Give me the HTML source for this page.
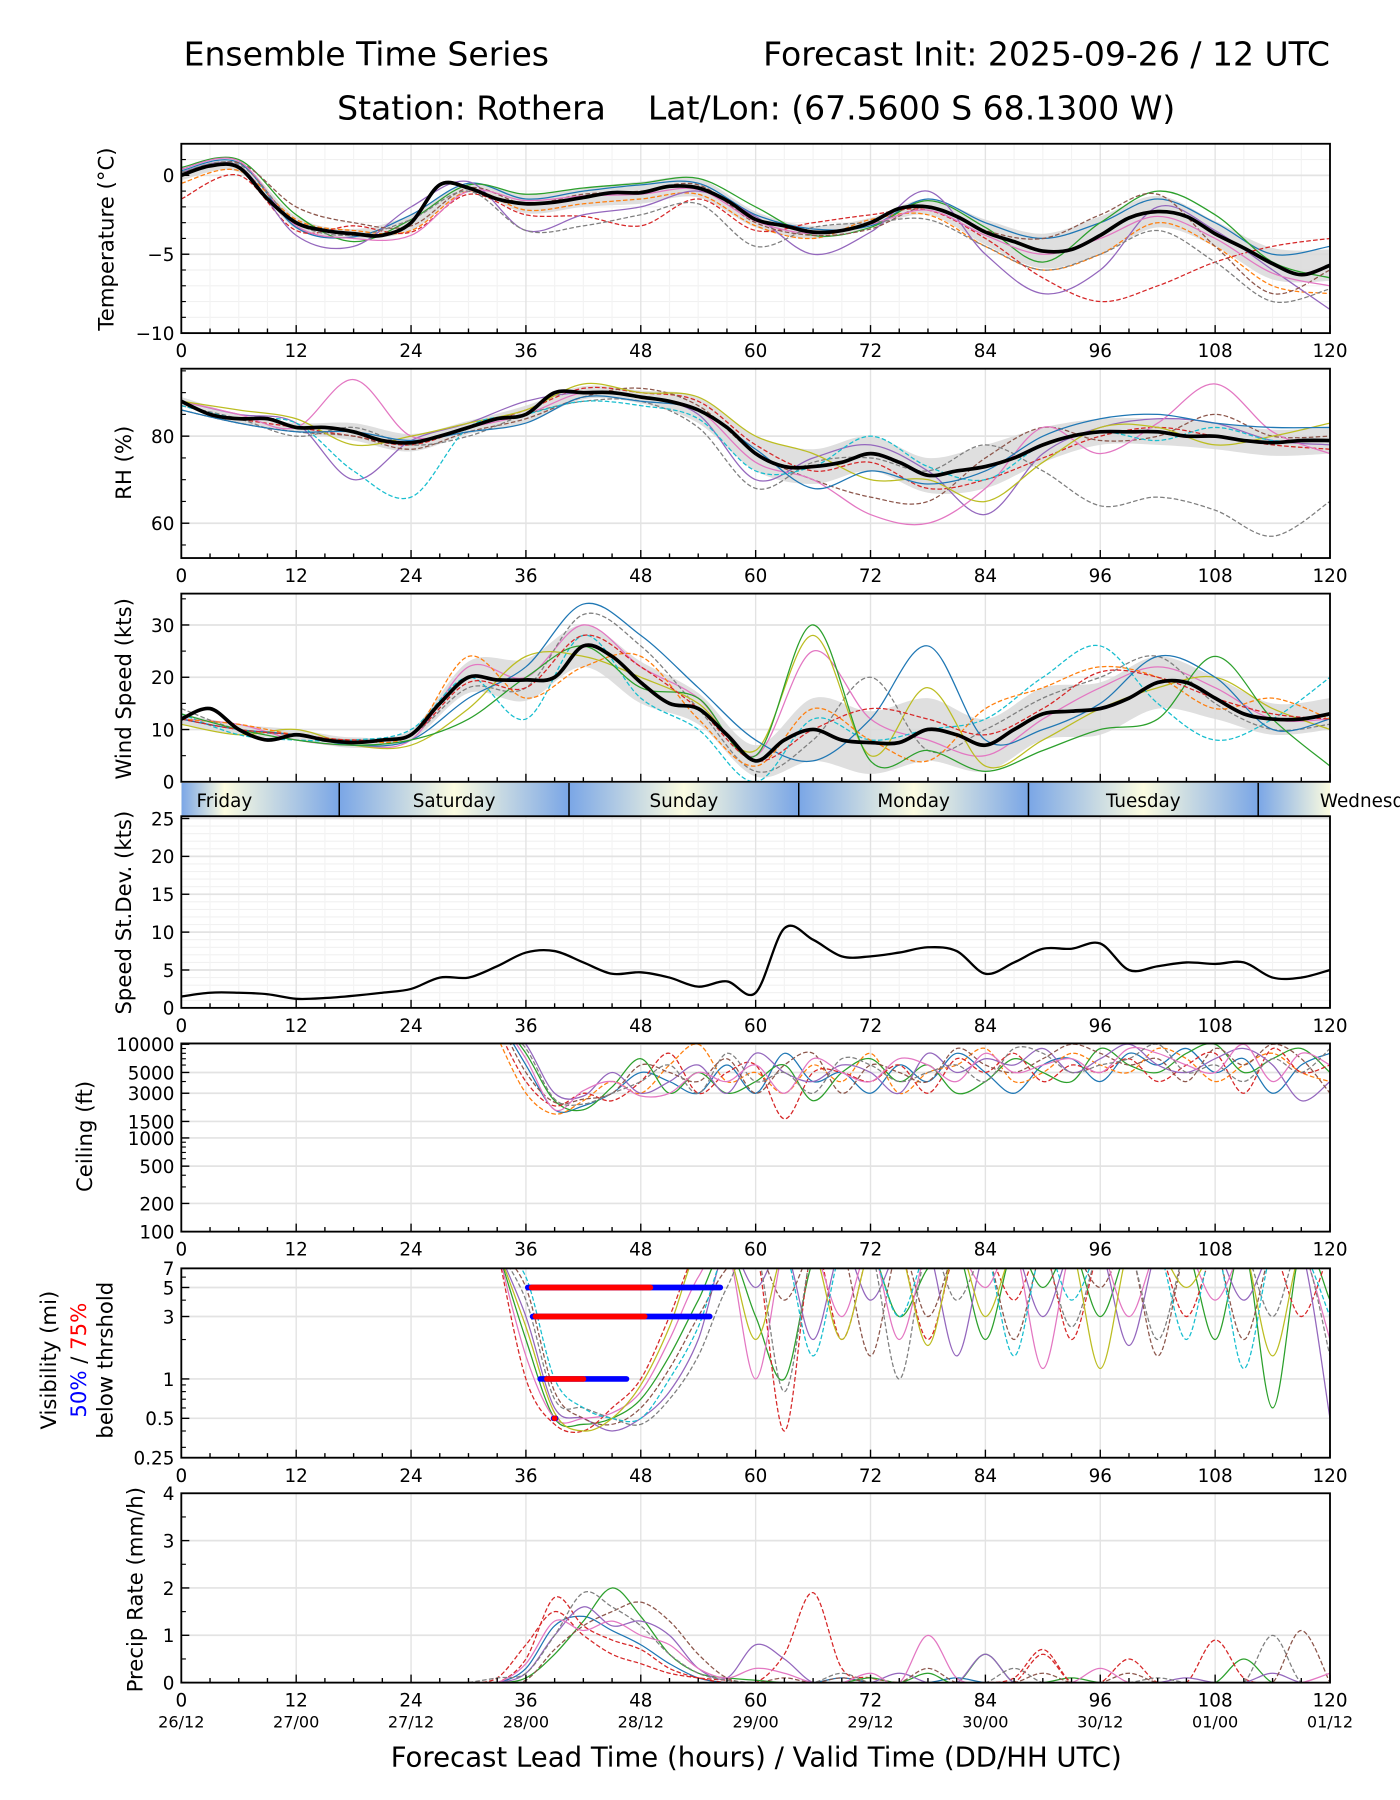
<!DOCTYPE html>
<html><head><meta charset="utf-8"><style>
html,body{margin:0;padding:0;background:#fff;}
svg{display:block;font-family:"DejaVu Sans","Liberation Sans",sans-serif;}
</style></head><body>
<svg id="fig" xmlns="http://www.w3.org/2000/svg" width="1400" height="1800" viewBox="0 0 1220 1568">
<rect x="0" y="0" width="1220" height="1568" fill="#fff"/>
<text x="160" y="57" font-size="28.8">Ensemble Time Series</text>
<text x="1159" y="57" font-size="28.8" text-anchor="end">Forecast Init: 2025-09-26 / 12 UTC</text>
<text x="659" y="104" font-size="28.8" text-anchor="middle" style="white-space:pre" xml:space="preserve">Station: Rothera    Lat/Lon: (67.5600 S 68.1300 W)</text>
<text x="659" y="1539" font-size="24" text-anchor="middle">Forecast Lead Time (hours) / Valid Time (DD/HH UTC)</text>
</svg>
<script>
// ---------- DATA ----------
const hours3 = [0,3,6,9,12,15,18,21,24,27,30,33,36,39,42,45,48,51,54,57,60,63,66,69,72,75,78,81,84,87,90,93,96,99,102,105,108,111,114,117,120];
const hours6 = [0,6,12,18,24,30,36,42,48,54,60,66,72,78,84,90,96,102,108,114,120];
const hoursLate = [33,36,39,42,45,48,51,54,57,60,63,66,69,72,75,78,81,84,87,90,93,96,99,102,105,108,111,114,117,120];
const hoursPrecip = [30,33,36,39,42,45,48,51,54,57,60,63,66,69,72,75,78,81,84,87,90,93,96,99,102,105,108,111,114,117,120];

const tempMean = [0,0.6,0.5,-1.5,-3.0,-3.5,-3.7,-3.8,-3.0,-0.6,-0.8,-1.5,-1.8,-1.7,-1.4,-1.1,-1.1,-0.7,-0.8,-1.6,-2.8,-3.2,-3.6,-3.5,-3.0,-2.1,-2.0,-2.6,-3.6,-4.2,-4.8,-4.7,-3.8,-2.7,-2.3,-2.6,-3.7,-4.6,-5.6,-6.3,-5.7];
const tempSpread = [0.3,0.3,0.4,0.3,0.5,0.3,0.6,0.6,0.7,0.6,0.5,0.4,0.3,0.5,0.8,1.1,1.2,1.0,0.8,1.0,1.0];
const tempM1 = [0.3,0.8,-3.3,-3.9,-2.5,-0.5,-1.5,-1.0,-0.6,-0.5,-2.5,-3.4,-3.2,-1.5,-3.0,-4.0,-3.0,-1.5,-3.0,-5.0,-4.5];
const tempM2 = [-0.5,0.3,-2.8,-3.5,-3.5,-1.0,-2.2,-1.8,-1.5,-1.2,-3.2,-4.0,-2.8,-2.5,-4.5,-6.0,-5.0,-3.0,-4.5,-7.0,-7.5];
const tempM3 = [0.5,1.0,-2.5,-4.2,-2.8,-0.6,-1.2,-0.8,-0.5,-0.2,-2.0,-3.8,-3.3,-1.6,-3.3,-5.5,-3.0,-1.0,-2.5,-5.5,-6.5];
const tempM4 = [-1.5,0.0,-3.5,-3.2,-3.6,-1.2,-2.5,-2.6,-3.2,-1.5,-3.5,-3.0,-2.5,-2.2,-4.0,-6.5,-8.0,-7.0,-5.5,-4.5,-4.0];
const tempM5 = [0.2,0.6,-3.8,-4.5,-2.0,-0.4,-3.5,-2.5,-2.0,-1.0,-2.6,-5.0,-3.6,-1.0,-5.0,-7.5,-6.0,-2.0,-3.5,-6.0,-8.5];
const tempM6 = [0.0,0.8,-2.0,-3.0,-3.2,-0.8,-1.8,-1.2,-1.0,-0.6,-3.0,-3.8,-3.4,-2.0,-3.5,-4.0,-2.5,-1.2,-4.5,-7.5,-6.0];
const tempM7 = [0.4,0.9,-3.2,-4.0,-3.8,-1.0,-1.6,-1.3,-1.2,-0.9,-2.9,-3.7,-3.1,-2.2,-3.8,-5.0,-4.0,-2.6,-4.0,-6.2,-7.0];
const tempM8 = [0.2,0.7,-3.0,-3.8,-2.8,-1.0,-3.5,-3.2,-2.5,-1.8,-4.5,-3.3,-3.0,-2.8,-4.5,-6.0,-5.0,-3.5,-5.5,-8.0,-7.2];

const rhMean = [88,85,84,84,82,82,81,79,78.5,80,82,84,85,90,90,90,89,88,86,82,76,73,73,74,76,74,71,72,73,75,78,80,81,81,81,80,80,79,78.5,79,79];
const rhSpread = [1,1,1,2,2,1.5,2,1.5,1.5,3,4,4,4,4,5,4,3,3,3,3,3];
const rhM1 = [87,84,82,80,78,82,86,91,90,88,78,72,74,68,70,75,80,82,80,78,77];
const rhM2 = [88,85,83,70,79,83,88,90,89,85,70,75,78,72,62,76,82,84,83,79,78];
const rhM3 = [86,83,81,80,77,81,84,89,91,87,76,70,66,65,75,82,79,80,85,80,80];
const rhM4 = [88,85,82,93,80,82,85,90,89,86,74,70,62,60,68,82,76,83,92,81,76];
const rhM5 = [87,84,80,82,78,80,85,88,88,82,68,74,75,72,78,72,64,66,63,57,65];
const rhM6 = [88,86,84,78,80,83,86,92,90,89,80,76,70,70,65,74,82,82,78,80,83];
const rhM7 = [87,84,83,72,66,82,85,88,87,84,72,73,80,73,70,78,81,79,82,79,79];
const rhM8 = [86,83,81,81,79,81,83,89,88,86,77,68,72,69,72,80,84,85,83,82,82];

const windMean = [12,14,10,8,9,8,7.5,8,9,15,20,19.5,19.5,20,26,24,19,15,14,9,4,8,10,8,7.5,7.5,10,9,7,10,13,13.5,14,16,19,19,16,13,12,12,13];
const windSpread = [1,1,1,1,1,3,4,4,4,3,3,6,6,6,5,5,5,5,4,3,3];
const windM1 = [12,11,8,7,8,22,20,30,22,16,5,25,12,8,5,12,18,22,18,12,12];
const windM2 = [14,10,9,8,9,18,18,32,26,14,2,8,20,6,10,16,20,24,15,10,11];
const windM3 = [11,9,10,7,7,14,24,24,20,15,6,28,5,18,3,8,14,18,20,14,10];
const windM4 = [13,9,8,8,10,20,12,28,16,10,0,12,8,10,12,20,26,15,8,12,20];
const windM5 = [12,10,9,7,8,16,22,34,28,18,8,4,12,26,8,10,15,24,20,10,12];
const windM6 = [12,11,9,8,9,24,16,22,24,12,3,14,8,4,14,18,22,20,14,16,12];
const windM7 = [13,10,8,7,8,12,20,26,18,16,5,30,4,6,2,6,10,12,24,12,3];
const windM8 = [12,10,9,8,9,19,18,28,22,14,4,10,14,12,9,14,21,20,16,13,12];

const sdValues = [1.5,2,2,1.8,1.2,1.3,1.6,2,2.5,4,4,5.5,7.3,7.5,6,4.5,4.7,4,2.8,3.5,2,10.5,9,6.8,6.8,7.3,8,7.5,4.5,6,7.8,7.8,8.5,5,5.5,6,5.8,6,4,4,5];

const ceilM1 = [20,6,2,2.2,3,5,4,3,6,3,8,4,5,3,6,4,8,5,3,6,7,4,8,6,9,5,7,3,6,8];
const ceilM2 = [12,3,1.8,2.5,4,3,6,10,4,5,3,6,4,8,3,5,6,9,4,5,8,6,5,9,7,4,6,8,5,4];
const ceilM3 = [20,8,2.5,2,3.5,7,3,5,3,4,6,2.5,5,7,4,6,3,4,7,5,4,9,6,5,8,10,5,7,9,5];
const ceilM4 = [15,4,2.2,3,2.5,4,8,3,5,6,1.6,5,5,4,6,3,7,5,8,4,6,5,7,4,6,8,3,9,5,6];
const ceilM5 = [20,10,3,2.8,5,3,4,6,3,8,5,4,6,5,3,8,5,7,6,9,5,7,10,6,5,7,9,6,2.5,4];
const ceilM6 = [20,5,2.4,2.6,3,6,5,4,7,3,6,8,3,6,5,4,9,6,5,7,10,8,6,7,4,9,6,10,7,3];
const ceilM7 = [20,7,2,3.2,4,2.8,3,5,4,6,3,7,5,4,7,6,4,8,5,6,7,5,9,8,6,5,10,4,8,6];
const ceilM8 = [18,9,2.6,2.3,3,4,6,3,8,4,5,3,7,6,4,5,6,4,9,8,5,6,7,10,5,6,4,7,5,9];

const visM1 = [10,2,0.5,0.45,0.5,0.7,1.5,4,10,3,1,8,10,10,3,7,10,2,10,5,10,3,10,8,10,2,10,0.6,10,4];
const visM2 = [10,1,0.45,0.4,0.6,1,3,10,10,10,0.4,10,2,10,10,2,10,10,4,10,2,10,10,10,3,10,10,10,3,10];
const visM3 = [10,3,0.6,0.5,0.4,0.5,0.8,2,10,5,10,2,10,4,10,10,1.5,10,10,3,10,10,1.8,10,10,10,4,10,10,0.5];
const visM4 = [10,5,0.8,0.5,0.45,0.6,1.2,3,7,10,4,10,10,1.5,10,3,10,10,2,10,10,5,10,1.5,10,10,2,10,10,10];
const visM5 = [10,1.5,0.5,0.5,0.55,0.8,2,6,10,1,10,10,3,10,2,10,10,5,10,1.2,10,10,3,10,10,4,10,10,10,2];
const visM6 = [10,4,0.7,0.6,0.5,0.45,0.7,1.5,5,10,0.8,10,10,10,1,10,4,10,10,10,2.5,10,10,2,10,10,10,3,10,1.5];
const visM7 = [10,2.5,0.55,0.4,0.5,0.9,2.5,10,10,2,10,10,2,10,10,1.8,10,3,10,10,10,1.2,10,10,5,10,10,1.5,10,10];
const visM8 = [10,6,1,0.6,0.5,0.5,1,2.5,10,10,10,1.5,10,10,3,10,10,10,1.5,10,4,10,10,10,2,10,1.2,10,10,3];
const visThresholds = [5,3,1,0.5];
const vis50Start = [36.2,36.7,37.5,38.9];
const vis50End = [56.3,55.2,46.5,39.1];
const vis75Start = [36.6,37.0,38.2,39.0];
const vis75End = [49.0,48.4,42.0,39.0];

const prM1 = [0,0,0.3,1.2,1.4,1.1,0.8,0.4,0.1,0,0,0,0,0.1,0,0,0,0.1,0,0,0,0,0,0,0,0,0,0,0,0,0];
const prM2 = [0,0.1,0.8,1.5,1.0,0.6,0.4,0.2,0.1,0.05,0,0.6,1.9,0.3,0.1,0,0,0,0,0.1,0.7,0,0,0.5,0,0,0,0,0,0,0];
const prM3 = [0,0,0.1,0.6,1.3,2.0,1.4,0.6,0.2,0.1,0.05,0,0,0,0.1,0,0.2,0,0.6,0,0,0.1,0,0,0,0,0,0.5,0,0,0];
const prM4 = [0,0,0.5,1.8,1.2,0.9,0.7,0.3,0.1,0,0,0,0,0,0,0,0,0,0,0,0.6,0,0,0,0,0,0.9,0.1,0,0,0];
const prM5 = [0,0,0.2,1.0,1.6,1.2,1.3,1.0,0.3,0.1,0.8,0.5,0,0,0,0.2,0,0,0.6,0,0,0,0,0,0,0.1,0,0,0.2,0,0];
const prM6 = [0,0,0.05,0.7,1.2,1.5,1.7,1.3,0.6,0.1,0,0.1,0,0.1,0,0,0.3,0,0,0,0.2,0,0,0.2,0,0,0,0,0,1.1,0];
const prM7 = [0,0,0.4,1.3,1.1,1.3,1.0,0.8,0.3,0.1,0.3,0.2,0,0,0.2,0,1.0,0.1,0,0,0,0,0.3,0,0,0,0,0,0,0,0.2];
const prM8 = [0,0.1,0.2,1.0,1.9,1.6,1.2,0.6,0.2,0.05,0,0,0,0.2,0,0,0,0,0,0.3,0,0,0,0,0.1,0,0,0,1.0,0,0];

const xTicks = [0,12,24,36,48,60,72,84,96,108,120];
const dateLabels = ["26/12","27/00","27/12","28/00","28/12","29/00","29/12","30/00","30/12","01/00","01/12"];
const dayNames = ["Friday","Saturday","Sunday","Monday","Tuesday","Wednesday"];

// ---------- RENDER ----------
const NS = "http://www.w3.org/2000/svg";
const svg = document.getElementById("fig");
const COLORS = ["#1f77b4","#ff7f0e","#2ca02c","#d62728","#9467bd","#8c564b","#e377c2","#7f7f7f","#bcbd22","#17becf"];
const X0 = 158, X1 = 1159;
const TICK_FS = 16;
function xs(h){ return X0 + h*(X1-X0)/120; }
function mk(tag, attrs, parent){
  const e = document.createElementNS(NS, tag);
  for (const k in attrs) e.setAttribute(k, attrs[k]);
  (parent||svg).appendChild(e);
  return e;
}
function smoothPath(pts){
  if (!pts.length) return "";
  let d = "M" + pts[0][0].toFixed(1) + "," + pts[0][1].toFixed(1);
  for (let i=0;i<pts.length-1;i++){
    const p0 = pts[Math.max(0,i-1)], p1 = pts[i], p2 = pts[i+1], p3 = pts[Math.min(pts.length-1,i+2)];
    const c1x = p1[0]+(p2[0]-p0[0])/6, c1y = p1[1]+(p2[1]-p0[1])/6;
    const c2x = p2[0]-(p3[0]-p1[0])/6, c2y = p2[1]-(p3[1]-p1[1])/6;
    d += " C"+c1x.toFixed(1)+","+c1y.toFixed(1)+" "+c2x.toFixed(1)+","+c2y.toFixed(1)+" "+p2[0].toFixed(1)+","+p2[1].toFixed(1);
  }
  return d;
}
function makePanel(name, top, bottom, ymin, ymax, log){
  const p = {name, top, bottom, ymin, ymax, log};
  p.y = function(v){
    if (log){ const a=Math.log10(ymin), b=Math.log10(ymax); return bottom - (Math.log10(Math.max(v,1e-3))-a)/(b-a)*(bottom-top); }
    return bottom - (v-ymin)/(ymax-ymin)*(bottom-top);
  };
  const defs = mk("defs", {});
  const cp = mk("clipPath", {id:"clip-"+name}, defs);
  mk("rect", {x:X0, y:top, width:X1-X0, height:bottom-top}, cp);
  p.g = mk("g", {"clip-path":"url(#clip-"+name+")"});
  
  
  return p;
}
function grid(p, yMajors, yMinors, minorGrid){
  const g = mk("g", {});
  
  
  if (minorGrid){
    yMinors.forEach(v=>{ mk("line",{x1:X0,x2:X1,y1:p.y(v),y2:p.y(v),stroke:"#f1f1f1","stroke-width":1},g); });
    for (let h=3;h<120;h+=3){ if (h%12) mk("line",{x1:xs(h),x2:xs(h),y1:p.top,y2:p.bottom,stroke:"#f3f3f3","stroke-width":1},g); }
  }
  xTicks.forEach(h=>{ mk("line",{x1:xs(h),x2:xs(h),y1:p.top,y2:p.bottom,stroke:"#e3e3e3","stroke-width":1.2},g); });
  yMajors.forEach(v=>{ mk("line",{x1:X0,x2:X1,y1:p.y(v),y2:p.y(v),stroke:"#e3e3e3","stroke-width":1.5},g); });
}
function frame(p, yMajors, yLabels, yMinors, showX){
  const g = mk("g", {});
  
  
  mk("rect",{x:X0,y:p.top,width:X1-X0,height:p.bottom-p.top,fill:"none",stroke:"#000","stroke-width":1.6},g);
  for (let h=0;h<=120;h+=3){
    const len = (h%12===0)?7:4;
    mk("line",{x1:xs(h),x2:xs(h),y1:p.bottom,y2:p.bottom-len,stroke:"#000","stroke-width":1.2},g);
  }
  yMajors.forEach((v,i)=>{
    mk("line",{x1:X0,x2:X0+7,y1:p.y(v),y2:p.y(v),stroke:"#000","stroke-width":1.2},g);
    const t = mk("text",{x:X0-6,y:p.y(v)+6,"font-size":TICK_FS,"text-anchor":"end"},g);
    t.textContent = yLabels[i];
    
    
  });
  yMinors.forEach(v=>{ mk("line",{x1:X0,x2:X0+4,y1:p.y(v),y2:p.y(v),stroke:"#000","stroke-width":1},g); });
  if (showX){
    xTicks.forEach(h=>{
      const t = mk("text",{x:xs(h),y:p.bottom+21,"font-size":TICK_FS,"text-anchor":"middle"},g);
      t.textContent = String(h);
      
      
    });
  }
}
function yTitle(text, x, y, name, size){
  const t = mk("text",{x:x,y:y,"font-size":size||18.5,"text-anchor":"middle",transform:"rotate(-90 "+x+" "+y+")"});
  t.textContent = text;
  
  
  return t;
}
function memberLine(p, hrs, vals, idx, name, width){
  const pts = hrs.map((h,i)=>[xs(h), p.y(vals[i])]);
  const path = mk("path",{d:smoothPath(pts),fill:"none",stroke:COLORS[idx%10],"stroke-width":width||1.1,"stroke-dasharray":(idx%2)?"4,2":"none"},p.g);
  
  
}
function band(p, meanArr, spread){
  const m6 = hours6.map(h=>meanArr[hours3.indexOf(h)]);
  const up = hours6.map((h,i)=>[xs(h), p.y(m6[i]+spread[i])]);
  const lo = hours6.map((h,i)=>[xs(h), p.y(m6[i]-spread[i])]).reverse();
  const d = smoothPath(up) + " L" + lo[0][0]+","+lo[0][1] + smoothPath(lo).replace(/^M[^C]*/,"") + " Z";
  const path = mk("path",{d:d,fill:"#d9d9d9","fill-opacity":0.85,stroke:"none"},p.g);
  
  
}
function meanLine(p, vals, w){
  const pts = hours3.map((h,i)=>[xs(h), p.y(vals[i])]);
  const path = mk("path",{d:smoothPath(pts),fill:"none",stroke:"#000","stroke-width":w||3.2},p.g);
  
  
}

// Temperature
const pT = makePanel("temperature",125,290,-10,2,false);
(function(){
  const g0 = pT.g; pT.g.remove();
  grid(pT,[0,-5,-10],[1,-1,-2,-3,-4,-6,-7,-8,-9],true);
  svg.appendChild(g0);
  band(pT,tempMean,tempSpread);
  [tempM1,tempM2,tempM3,tempM4,tempM5,tempM6,tempM7,tempM8].forEach((a,i)=>memberLine(pT,hours6,a,i,"temperature-member-"+(i+1)));
  meanLine(pT,tempMean);
  frame(pT,[0,-5,-10],["0","\u22125","\u221210"],[1,-1,-2,-3,-4,-6,-7,-8,-9],true);
  yTitle("Temperature (\u00b0C)",99,208,"temperature-y-axis-title");
})();

// RH
const pR = makePanel("rh",321,486,52,95.5,false);
(function(){
  const g0 = pR.g; pR.g.remove();
  grid(pR,[60,80],[55,65,70,75,85,90,95],false);
  svg.appendChild(g0);
  band(pR,rhMean,rhSpread);
  [rhM1,rhM2,rhM3,rhM4,rhM5,rhM6,rhM7,rhM8].forEach((a,i)=>memberLine(pR,hours6,a,(i+3),"rh-member-"+(i+1)));
  meanLine(pR,rhMean);
  frame(pR,[60,80],["60","80"],[55,65,70,75,85,90,95],true);
  yTitle("RH (%)",114,403,"rh-y-axis-title");
})();

// Wind
const pW = makePanel("wind",517,681,0,36,false);
(function(){
  const g0 = pW.g; pW.g.remove();
  grid(pW,[0,10,20,30],[5,15,25,35],false);
  svg.appendChild(g0);
  band(pW,windMean,windSpread);
  [windM1,windM2,windM3,windM4,windM5,windM6,windM7,windM8].forEach((a,i)=>memberLine(pW,hours6,a,(i+6),"wind-member-"+(i+1)));
  meanLine(pW,windMean);
  frame(pW,[0,10,20,30],["0","10","20","30"],[5,15,25,35],false);
  yTitle("Wind Speed (kts)",114,600,"wind-y-axis-title");
})();

// Day bar
(function(){
  const defs = mk("defs",{});
  const lg = mk("linearGradient",{id:"daygrad",x1:X0,x2:X1,y1:0,y2:0,gradientUnits:"userSpaceOnUse"},defs);
  for (let h=-19.5; h<=140; h+=12){
    const isNoon = Math.round((h-4.5)/12)%2===0;
    const off = (xs(h)-X0)/(X1-X0);
    if (off<-0.3||off>1.3) continue;
    mk("stop",{offset:off,"stop-color":isNoon?"#fcfce0":"#7aa6e6"},lg);
  }
  const r = mk("rect",{x:X0,y:682,width:X1-X0,height:29,fill:"url(#daygrad)"});
  
  
  for (let k=0;k<5;k++){
    const h = 16.5+24*k;
    const l = mk("line",{x1:xs(h),x2:xs(h),y1:682,y2:711,stroke:"#000","stroke-width":1.3});
    
    
  }
  dayNames.forEach((n,k)=>{
    const t = mk("text",{x:xs(4.5+24*k),y:703,"font-size":16,"text-anchor":"middle"});
    t.textContent = n;
    
    
  });
})();

// StDev
const pS = makePanel("stdev",711,878,0,25.3,false);
(function(){
  const g0 = pS.g; pS.g.remove();
  grid(pS,[0,5,10,15,20,25],[1,2,3,4,6,7,8,9,11,12,13,14,16,17,18,19,21,22,23,24],true);
  svg.appendChild(g0);
  meanLine(pS,sdValues,2);
  
  frame(pS,[0,5,10,15,20,25],["0","5","10","15","20","25"],[],true);
  yTitle("Speed St.Dev. (kts)",114,795,"stdev-y-axis-title");
})();

// Ceiling
const pC = makePanel("ceiling",909,1073,100,10200,true);
(function(){
  const maj=[100,200,500,1000,1500,3000,5000,10000];
  const g0 = pC.g; pC.g.remove();
  grid(pC,maj,[],false);
  svg.appendChild(g0);
  [ceilM1,ceilM2,ceilM3,ceilM4,ceilM5,ceilM6,ceilM7,ceilM8].forEach((a,i)=>memberLine(pC,hoursLate,a.map(v=>v*1000),i,"ceiling-member-"+(i+1)));
  frame(pC,maj,maj.map(String),[300,400,600,700,800,900,2000,4000,6000,7000,8000,9000],true);
  yTitle("Ceiling (ft)",80,990,"ceiling-y-axis-title");
})();

// Visibility
const pV = makePanel("visibility",1105,1270,0.25,7,true);
(function(){
  const maj=[0.25,0.5,1,3,5,7];
  const g0 = pV.g; pV.g.remove();
  grid(pV,maj,[],false);
  svg.appendChild(g0);
  [visM1,visM2,visM3,visM4,visM5,visM6,visM7,visM8].forEach((a,i)=>memberLine(pV,hoursLate,a,(i+2),"visibility-member-"+(i+1)));
  visThresholds.forEach((v,i)=>{
    const b = mk("line",{x1:xs(vis50Start[i]),x2:xs(vis50End[i]),y1:pV.y(v),y2:pV.y(v),stroke:"#0000ff","stroke-width":5,"stroke-linecap":"round"},pV.g);
    
    
    const r = mk("line",{x1:xs(vis75Start[i]),x2:xs(vis75End[i]),y1:pV.y(v),y2:pV.y(v),stroke:"#ff0000","stroke-width":5,"stroke-linecap":"round"},pV.g);
    
    
  });
  frame(pV,maj,["0.25","0.5","1","3","5","7"],[2,4,6,0.3,0.4,0.6,0.7,0.8,0.9],true);
  yTitle("Visibility (mi)",49,1185,"visibility-y-axis-title",18.5);
  const t2 = mk("text",{x:75,y:1185,"font-size":18.5,"text-anchor":"middle",transform:"rotate(-90 75 1185)"});
  t2.innerHTML = '<tspan fill="#0000ff">50%</tspan> / <tspan fill="#ff0000">75%</tspan>';
  
  
  yTitle("below thrshold",98,1185,"visibility-threshold-label",18.5);
})();

// Precip
const pP = makePanel("precip",1301,1466,0,4,false);
(function(){
  const g0 = pP.g; pP.g.remove();
  grid(pP,[0,1,2,3,4],[],false);
  svg.appendChild(g0);
  [prM1,prM2,prM3,prM4,prM5,prM6,prM7,prM8].forEach((a,i)=>memberLine(pP,hoursPrecip,a,i+ (i===1?2:0),"precip-member-"+(i+1)));
  frame(pP,[0,1,2,3,4],["0","1","2","3","4"],[0.5,1.5,2.5,3.5],true);
  yTitle("Precip Rate (mm/h)",124,1385,"precip-y-axis-title");
  xTicks.forEach((h,i)=>{
    const t = mk("text",{x:xs(h),y:1505,"font-size":14,"text-anchor":"middle"});
    t.textContent = dateLabels[i];
    
    
  });
})();
</script>
</body></html>
